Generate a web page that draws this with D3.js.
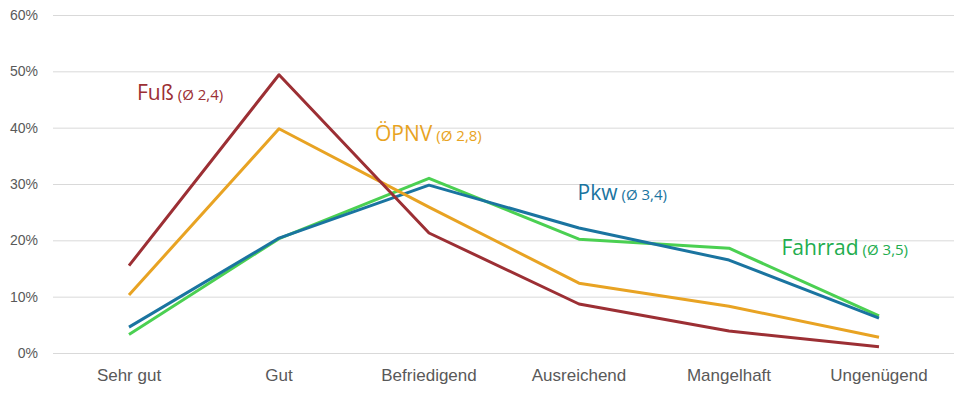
<!DOCTYPE html>
<html><head><meta charset="utf-8">
<script src="https://cdn.jsdelivr.net/npm/d3@7/dist/d3.min.js"></script>
<style>body{margin:0;background:#fff;}svg{display:block;font-family:"Open Sans","Noto Sans",sans-serif;}</style>
</head><body><svg id="c" width="969" height="396"></svg>
<script>
const categories = ["Sehr gut","Gut","Befriedigend","Ausreichend","Mangelhaft","Ungenügend"];
const yTicks = [0,0.1,0.2,0.3,0.4,0.5,0.6];
const seriesNames = ["Fuß","ÖPNV","Pkw","Fahrrad"];
const seriesAvg = ["(Ø 2,4)","(Ø 2,8)","(Ø 3,4)","(Ø 3,5)"];
const fuss    = [0.155,0.494,0.213,0.087,0.039,0.011];
const oepnv   = [0.103,0.398,0.259,0.124,0.083,0.028];
const pkw     = [0.046,0.204,0.298,0.222,0.165,0.062];
const fahrrad = [0.033,0.203,0.310,0.202,0.186,0.066];
const lineColors  = ["#9C2F34","#E8A323","#1A74A0","#4BD052"];
const labelColors = ["#9C2F34","#E8A323","#1A74A0","#22AD4E"];
// label anchor: [category index position, value]
const labelAnchor = [[0.053,0.449],[1.64,0.376],[2.99,0.272],[4.35,0.174]];

const svg = d3.select("#c");
const x = d3.scaleBand().domain(categories).range([54,954]);
const y = d3.scaleLinear().domain([0,0.6]).range([353,15]);
const xi = d3.scaleLinear().domain([0,categories.length-1])
  .range([x(categories[0])+x.bandwidth()/2, x(categories[categories.length-1])+x.bandwidth()/2]);

const grid = svg.append("g").attr("class","grid")
  .call(d3.axisLeft(y).tickValues(yTicks).tickSize(-(954-53)).tickFormat(d3.format(".0%")))
  .attr("transform","translate(53,0)");
grid.select(".domain").remove();
grid.selectAll("line").attr("stroke","#d9d9d9").attr("stroke-width",1);
grid.selectAll("text").attr("fill","#595959").attr("font-size",14).attr("x",-15);

const xa = svg.append("g").attr("transform","translate(0,353)")
  .call(d3.axisBottom(x).tickSize(0).tickPadding(16));
xa.select(".domain").remove();
xa.selectAll("text").attr("fill","#595959").attr("font-size",17);

const data = [fuss,oepnv,pkw,fahrrad];
const line = d3.line().x((d,i)=>xi(i)).y(d=>y(d));
[3,2,1,0].forEach(k=>{
  svg.append("path").datum(data[k]).attr("d",line).attr("fill","none")
    .attr("stroke",lineColors[k]).attr("stroke-width",3).attr("stroke-linejoin","round");
});

seriesNames.forEach((n,k)=>{
  const t = svg.append("text").attr("x",xi(labelAnchor[k][0])).attr("y",y(labelAnchor[k][1])).attr("fill",labelColors[k]);
  t.append("tspan").attr("font-size",21).text(n);
  t.append("tspan").attr("font-size",15).attr("dx",4).text(seriesAvg[k]);
});
</script></body></html>
